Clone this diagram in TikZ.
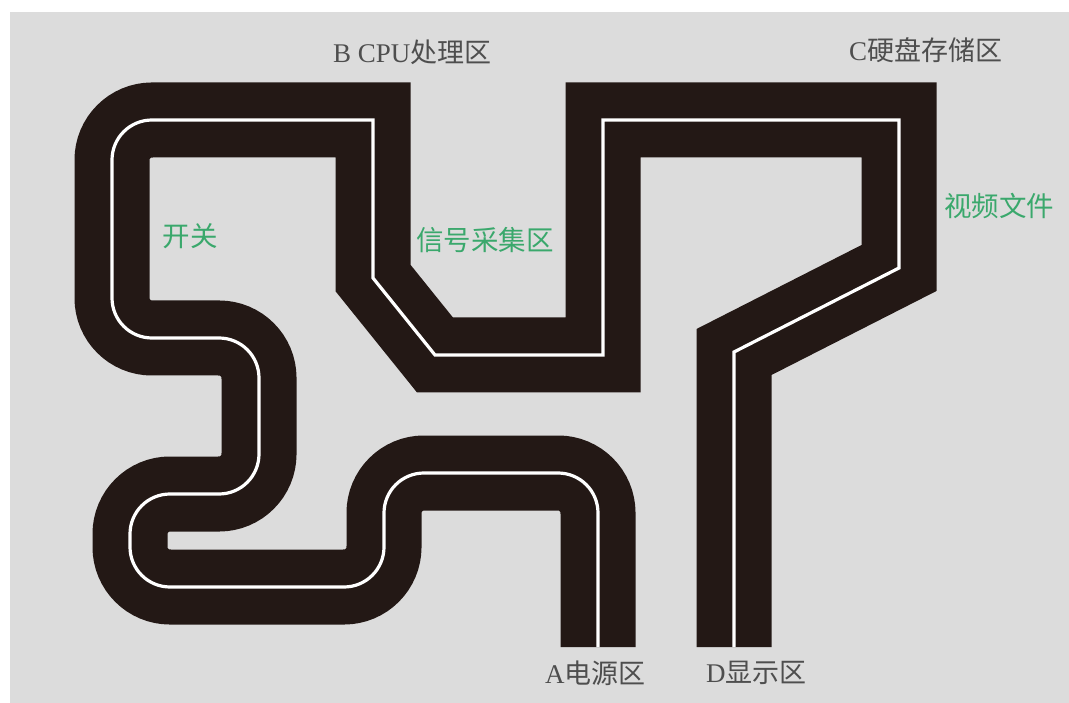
\documentclass[tikz,border=0pt]{standalone}
\usepackage{fontspec}
\setmainfont{Liberation Serif}
\newfontfamily\cjk{Noto Sans CJK SC}
\definecolor{bggray}{RGB}{220,220,220}
\definecolor{trackblack}{RGB}{35,24,21}
\definecolor{labelgray}{RGB}{78,78,78}
\definecolor{labelgreen}{RGB}{58,168,108}
\tikzset{
  trackband/.style={draw=trackblack, line width=75pt, line join=miter, line cap=butt},
  trackline/.style={draw=white, line width=3.2pt, line join=miter, line cap=butt},
  zonelabel/.style={text=labelgray, font=\fontsize{27}{29}\selectfont, inner sep=0pt},
  notelabel/.style={text=labelgreen, font=\cjk\fontsize{27.5}{29}\selectfont, inner sep=0pt}
}
\newcommand\trackpath{(598,647) [rounded corners=40pt] -- (598,473) -- (384,473) -- (384,587) -- (130,587) -- (130,494) -- (259,494) -- (259,338) -- (112,338) -- (112,120) [sharp corners] -- (373,120) -- (373,278) -- (435,355) -- (603,355) -- (603,120) -- (899,120) -- (899,268) -- (734,352) -- (734,647)}
\begin{document}
\begin{tikzpicture}[x=1pt, y=-1pt]
  \useasboundingbox (0,0) rectangle (1069,703);
  \fill[white] (0,0) rectangle (1069,703);
  \fill[bggray] (10,12) rectangle (1069,703);
  \path[trackband] \trackpath;
  \path[trackline] \trackpath;
  \node[zonelabel, anchor=west] (lb) at (333,52) {B CPU{\cjk 处理区}};
  \node[zonelabel, anchor=west] (lc) at (849,50) {C{\cjk 硬盘存储区}};
  \node[zonelabel, anchor=west] (la) at (545,673) {A{\cjk 电源区}};
  \node[zonelabel, anchor=west] (ld) at (706,673) {D{\cjk 显示区}};
  \node[notelabel] (n1) at (190,236) {开关};
  \node[notelabel] (n2) at (485,240) {信号采集区};
  \node[notelabel] (n3) at (999,206) {视频文件};
\end{tikzpicture}
\end{document}
